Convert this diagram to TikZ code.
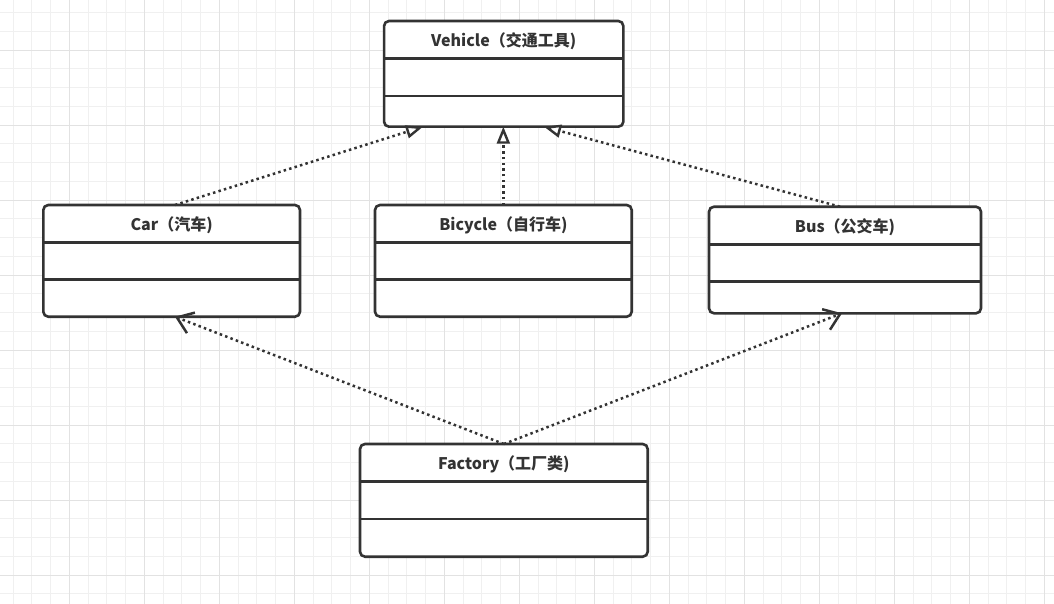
\documentclass[tikz,border=0pt]{standalone}
\usepackage{fontspec}
\setmainfont{Noto Sans CJK SC}
\usepackage{tikz}
\usetikzlibrary{arrows.meta}
\pgfdeclarelayer{background}
\pgfsetlayers{background,main}
\definecolor{umlgray}{HTML}{333333}
\definecolor{gridminor}{HTML}{F0F0F0}
\definecolor{gridmajor}{HTML}{E2E2E2}
\tikzset{
  classbox/.style={draw=umlgray, line width=2.6pt, rounded corners=5pt, fill=white, inner sep=0pt, outer sep=0pt},
  classtitle/.style={text=umlgray, font=\bfseries\fontsize{16}{19}\selectfont, inner sep=0pt},
  sepline/.style={draw=umlgray, line width=2.6pt},
  dotline/.style={draw=umlgray, line width=2.5pt, dash pattern=on 2.5pt off 3.2pt},
  realize/.style={dotline, -{Triangle[length=17pt, width=13pt, fill=white, line width=2.4pt]}},
  depend/.style={dotline, -{Straight Barb[length=15pt, width=22pt, line width=2.5pt]}}
}

\begin{document}
\begin{tikzpicture}[x=1pt,y=1pt]
\useasboundingbox (0,0) rectangle (1054,-604);
\begin{pgfonlayer}{background}
\fill[white] (0,0) rectangle (1054,-604);
\clip (0,0) rectangle (1054,-604);
\draw[gridminor, line width=1pt, step=18.75pt, shift={(13.05,-12.7)}] (-40,-620) grid (1060,40);
\draw[gridmajor, line width=1pt, step=75pt, shift={(69.3,-50.7)}] (-80,-620) grid (1060,80);
\end{pgfonlayer}

\node[classbox, minimum width=239.3pt, minimum height=105.7pt] (vehicle) at (503.7,-73.85) {};
\node[classtitle] (vehicle-title) at ([yshift=-20.5pt]vehicle.north) {Vehicle（交通工具)};
\draw[sepline] ([yshift=-37.5pt]vehicle.north west) -- ([yshift=-37.5pt]vehicle.north east);
\draw[sepline] ([yshift=-75pt]vehicle.north west) -- ([yshift=-75pt]vehicle.north east);

\node[classbox, minimum width=256.7pt, minimum height=111.7pt] (car) at (171.65,-260.85) {};
\node[classtitle] (car-title) at ([yshift=-20.5pt]car.north) {Car（汽车)};
\draw[sepline] ([yshift=-37.3pt]car.north west) -- ([yshift=-37.3pt]car.north east);
\draw[sepline] ([yshift=-74.5pt]car.north west) -- ([yshift=-74.5pt]car.north east);

\node[classbox, minimum width=256.7pt, minimum height=111.7pt] (bicycle) at (503.35,-260.85) {};
\node[classtitle] (bicycle-title) at ([yshift=-20.5pt]bicycle.north) {Bicycle（自行车)};
\draw[sepline] ([yshift=-37.3pt]bicycle.north west) -- ([yshift=-37.3pt]bicycle.north east);
\draw[sepline] ([yshift=-74.7pt]bicycle.north west) -- ([yshift=-74.7pt]bicycle.north east);

\node[classbox, minimum width=272pt, minimum height=106.6pt] (bus) at (845,-260) {};
\node[classtitle] (bus-title) at ([yshift=-20.5pt]bus.north) {Bus（公交车)};
\draw[sepline] ([yshift=-37.6pt]bus.north west) -- ([yshift=-37.6pt]bus.north east);
\draw[sepline] ([yshift=-75pt]bus.north west) -- ([yshift=-75pt]bus.north east);

\node[classbox, minimum width=287.7pt, minimum height=112.7pt] (factory) at (503.85,-500.35) {};
\node[classtitle] (factory-title) at ([yshift=-20.5pt]factory.north) {Factory（工厂类)};
\draw[sepline] ([yshift=-37.7pt]factory.north west) -- ([yshift=-37.7pt]factory.north east);
\draw[sepline] ([yshift=-75pt]factory.north west) -- ([yshift=-75pt]factory.north east);

\draw[realize] ([xshift=3.3pt]car.north) -- ([xshift=-80.7pt]vehicle.south);
\draw[realize] (bicycle.north) -- (bicycle.north |- vehicle.south);
\draw[realize] ([xshift=-5pt]bus.north) -- ([xshift=40.3pt]vehicle.south);
\draw[depend] (factory.north) -- ([xshift=3.3pt]car.south);
\draw[depend] (factory.north) -- ([xshift=-3pt]bus.south);
\end{tikzpicture}
\end{document}
